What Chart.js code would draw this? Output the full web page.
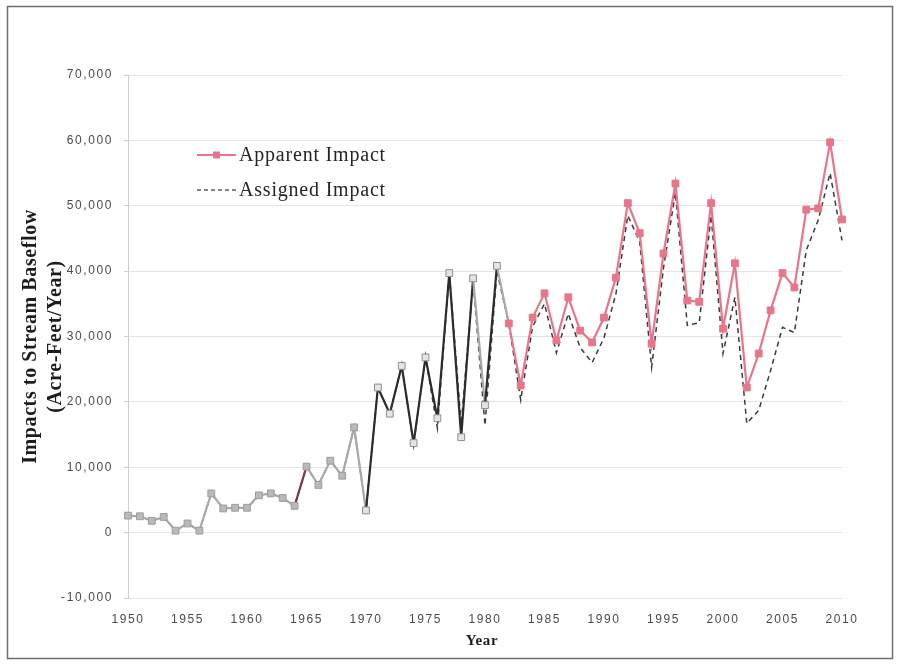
<!DOCTYPE html>
<html>
<head>
<meta charset="utf-8">
<title>Impacts to Stream Baseflow</title>
<script src="https://cdn.jsdelivr.net/npm/chart.js@4/dist/chart.umd.min.js"></script>
<style>
  html, body { margin: 0; padding: 0; background: #ffffff; }
  #wrap { width: 898px; height: 664px; }
</style>
</head>
<body>
<div id="wrap"><canvas id="chart" width="898" height="664"></canvas></div>
<script>
// Annual stream baseflow impacts, acre-feet per year
const years = [
  1950, 1951, 1952, 1953, 1954, 1955, 1956, 1957, 1958, 1959,
  1960, 1961, 1962, 1963, 1964, 1965, 1966, 1967, 1968, 1969,
  1970, 1971, 1972, 1973, 1974, 1975, 1976, 1977, 1978, 1979,
  1980, 1981, 1982, 1983, 1984, 1985, 1986, 1987, 1988, 1989,
  1990, 1991, 1992, 1993, 1994, 1995, 1996, 1997, 1998, 1999,
  2000, 2001, 2002, 2003, 2004, 2005, 2006, 2007, 2008, 2009,
  2010
];

const apparentImpact = [
  2600, 2500, 1800, 2400, 300, 1400, 300, 6000, 3700, 3800,
  3800, 5700, 6000, 5300, 4100, 10100, 7300, 11000, 8700, 16100,
  3400, 22200, 18200, 25500, 13700, 26800, 17500, 39700, 14600, 38900,
  19500, 40800, 32000, 22500, 32900, 36600, 29400, 36000, 30900, 29100,
  32900, 39000, 50400, 45800, 28900, 42700, 53400, 35500, 35300, 50400,
  31200, 41200, 22200, 27400, 34000, 39700, 37500, 49400, 49600, 59700,
  47900
];

const assignedImpact = [
  2600, 2500, 1800, 2400, 300, 1400, 300, 6000, 3700, 3800,
  3800, 5700, 6000, 5300, 4100, 10100, 7300, 11000, 8700, 16100,
  3400, 22200, 18200, 25500, 13500, 26800, 16000, 39700, 16500, 38500,
  16400, 40000, 32000, 20300, 31500, 35000, 27500, 33500, 28300, 26000,
  29800, 36500, 48500, 44500, 25300, 40500, 52000, 31700, 32100, 48500,
  27400, 36000, 16700, 18700, 24800, 31400, 30600, 43200, 47800, 55000,
  44700
];

const seriesNames = ['Apparent Impact', 'Assigned Impact'];
const yearTicks = [1950, 1955, 1960, 1965, 1970, 1975, 1980, 1985, 1990, 1995, 2000, 2005, 2010];
const impactTicks = [-10000, 0, 10000, 20000, 30000, 40000, 50000, 60000, 70000];
const axisTitleY = ['Impacts to Stream Baseflow', '(Acre-Feet/Year)'];
const axisTitleX = 'Year';

// Stroke colours along the apparent-impact line
const PINK = '#e8758a';
const GREY = '#a9a9a9';
const DARK = '#2c2c2c';
const MAROON = '#7d3a48';

function segmentColour(startYear) {
  if (startYear >= 1982) return PINK;
  if (startYear === 1964) return MAROON;
  if (startYear < 1970) return GREY;
  if (startYear === 1979 || startYear === 1981) return GREY;
  return DARK;
}
function markerFill(year) {
  if (year >= 1982) return PINK;
  if (year >= 1970) return '#e4e4e4';
  return '#b9b9b9';
}
function markerEdge(year) {
  if (year >= 1982) return PINK;
  if (year >= 1970) return '#8f8f8f';
  return '#9c9c9c';
}

const toPoints = (vals) => years.map((yr, i) => ({ x: yr, y: vals[i] }));

// Tick text is drawn with a little tracking; titles and legend reset it
const trackingPlugin = {
  id: 'tracking',
  beforeDraw(chart) {
    const ctx = chart.ctx;
    if ('letterSpacing' in ctx) ctx.letterSpacing = '1.6px';
  },
  beforeDatasetsDraw(chart) {
    const ctx = chart.ctx;
    if ('letterSpacing' in ctx) ctx.letterSpacing = '0px';
  }
};

// Axis titles, in-plot legend and the outer frame
const decorPlugin = {
  id: 'decor',
  afterDraw(chart) {
    const ctx = chart.ctx;
    const area = chart.chartArea;
    ctx.save();
    if ('letterSpacing' in ctx) ctx.letterSpacing = '0.6px';

    // y-axis title (two lines, rotated)
    const midY = (area.top + area.bottom) / 2;
    ctx.fillStyle = '#1c1c1c';
    ctx.font = 'bold 20px "Liberation Serif", "Times New Roman", serif';
    ctx.textAlign = 'center';
    ctx.textBaseline = 'middle';
    [31, 56].forEach((x, i) => {
      ctx.save();
      ctx.translate(x, midY);
      ctx.rotate(-Math.PI / 2);
      ctx.fillText(axisTitleY[i], 0, 0);
      ctx.restore();
    });

    // x-axis title
    ctx.font = 'bold 15px "Liberation Serif", "Times New Roman", serif';
    ctx.fillText(axisTitleX, (area.left + area.right) / 2 - 3, 641);

    // legend
    const lx0 = 197, lx1 = 236;
    const rows = [155, 190];
    ctx.lineWidth = 2;
    ctx.strokeStyle = PINK;
    ctx.beginPath();
    ctx.moveTo(lx0, rows[0]);
    ctx.lineTo(lx1, rows[0]);
    ctx.stroke();
    ctx.fillStyle = PINK;
    ctx.fillRect((lx0 + lx1) / 2 - 3.5, rows[0] - 3.5, 7, 7);

    ctx.lineWidth = 1.5;
    ctx.strokeStyle = '#5a5a5a';
    ctx.setLineDash([4, 3]);
    ctx.beginPath();
    ctx.moveTo(lx0, rows[1]);
    ctx.lineTo(lx1, rows[1]);
    ctx.stroke();
    ctx.setLineDash([]);

    ctx.fillStyle = '#252525';
    ctx.font = '20px "Liberation Serif", "Times New Roman", serif';
    ctx.textAlign = 'left';
    ctx.textBaseline = 'middle';
    if ('letterSpacing' in ctx) ctx.letterSpacing = '0.8px';
    ctx.fillText(seriesNames[0], 239, rows[0] + 1);
    ctx.fillText(seriesNames[1], 239, rows[1] + 1);

    // frame
    ctx.strokeStyle = '#6e6e6e';
    ctx.lineWidth = 1.5;
    ctx.strokeRect(7.5, 6.5, 885, 652);
    ctx.restore();
  }
};

new Chart(document.getElementById('chart'), {
  type: 'line',
  data: {
    datasets: [
      {
        label: seriesNames[0],
        data: toPoints(apparentImpact),
        borderColor: PINK,
        borderWidth: 2.2,
        tension: 0,
        clip: false,
        pointStyle: 'rect',
        pointRadius: 4.8,
        pointBorderWidth: 1,
        pointBackgroundColor: (c) => markerFill(years[c.dataIndex]),
        pointBorderColor: (c) => markerEdge(years[c.dataIndex]),
        segment: {
          borderColor: (c) => segmentColour(years[c.p0DataIndex])
        },
        order: 0
      },
      {
        label: seriesNames[1],
        data: toPoints(assignedImpact),
        borderColor: '#3a3a3a',
        borderWidth: 1.5,
        borderDash: [5, 4],
        tension: 0,
        clip: false,
        pointRadius: 0,
        order: 1
      }
    ]
  },
  options: {
    responsive: false,
    animation: false,
    events: [],
    layout: { padding: { top: 75, right: 56, left: 0, bottom: 0 } },
    plugins: {
      legend: { display: false },
      tooltip: { enabled: false },
      title: { display: false }
    },
    scales: {
      x: {
        type: 'linear',
        min: 1950,
        max: 2010,
        afterBuildTicks: (s) => { s.ticks = yearTicks.map(v => ({ value: v })); },
        afterFit: (s) => { s.height = 66; },
        grid: { display: false },
        border: { display: false },
        ticks: {
          callback: (v) => String(v),
          color: '#4a4a4a',
          font: { family: '"Liberation Sans", Arial, sans-serif', size: 12 },
          padding: 6,
          maxRotation: 0,
          autoSkip: false
        }
      },
      y: {
        type: 'linear',
        min: -10000,
        max: 70000,
        afterBuildTicks: (s) => { s.ticks = impactTicks.map(v => ({ value: v })); },
        afterFit: (s) => { s.width = 128; },
        grid: {
          color: '#e4e4e4',
          lineWidth: 1,
          drawTicks: true,
          tickLength: 4,
          tickColor: '#cfcfcf'
        },
        border: { display: true, color: '#cdcdcd', width: 1 },
        ticks: {
          callback: (v) => v.toLocaleString('en-US'),
          color: '#4a4a4a',
          font: { family: '"Liberation Sans", Arial, sans-serif', size: 12 },
          padding: 11
        }
      }
    }
  },
  plugins: [trackingPlugin, decorPlugin]
});
</script>
</body>
</html>
